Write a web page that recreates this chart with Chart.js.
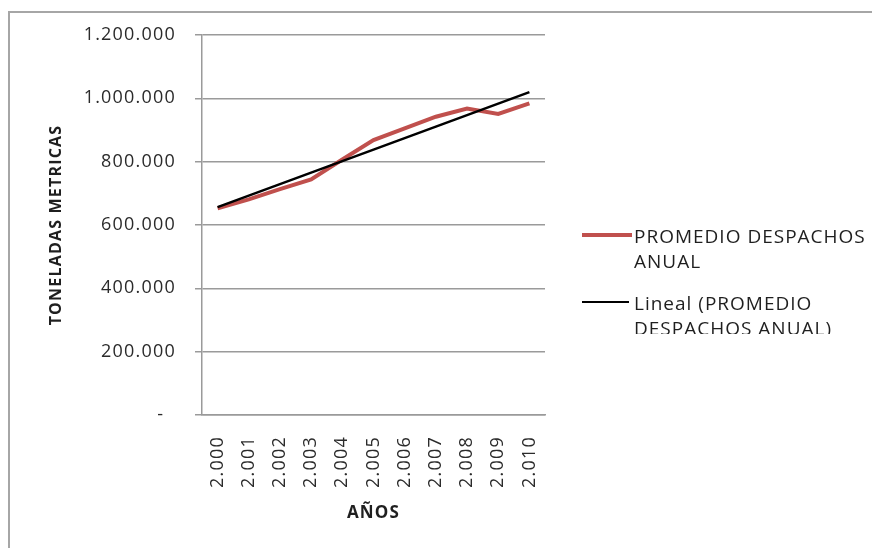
<!DOCTYPE html>
<html>
<head>
<meta charset="utf-8">
<script src="https://cdn.jsdelivr.net/npm/chart.js@4"></script>
<style>
    body { margin: 0; background: #fff; font-family: 'Open Sans', sans-serif; }
    #wrap { position: relative; width: 872px; height: 548px; overflow: hidden; }
    #frame { position: absolute; left: 8px; top: 11px; width: 900px; height: 600px;
             border: 2px solid #a6a6a6; box-sizing: border-box; }
    #chart { position: absolute; left: 0; top: 0; }
    #legend { position: absolute; left: 578px; top: 224px; width: 294px; height: 110px;
              overflow: hidden; color: #1f1f1f; font-size: 19px; line-height: 25px;
              letter-spacing: 1px; }
    .item { position: relative; margin-bottom: 17px; }
    .swatch { position: absolute; left: 4px; }
    .txt { margin-left: 56px; width: 238px; }
</style>
</head>
<body>
<div id="wrap">
    <div id="frame"></div>
    <canvas id="chart" width="872" height="548"></canvas>
    <div id="legend"></div>
</div>
<script>
(function () {

    // ─────────────────────────────────────────────
    // DATA
    // ─────────────────────────────────────────────
    const years = [2000, 2001, 2002, 2003, 2004, 2005, 2006, 2007, 2008, 2009, 2010];
    const despachos = [653000, 681000, 713000, 744000, 807000, 868000, 905000, 942000, 968000, 951000, 984000];
    const yTicks = [0, 200000, 400000, 600000, 800000, 1000000, 1200000];

    const seriesName = 'PROMEDIO DESPACHOS ANUAL';
    const trendName = 'Lineal (PROMEDIO DESPACHOS ANUAL)';

    function dotted(v) {
        return String(v).replace(/\B(?=(\d{3})+(?!\d))/g, '.');
    }

    // least squares trend line (what Excel's "Lineal" trendline is)
    function linearTrend(ys) {
        const n = ys.length;
        const xs = ys.map((_, i) => i);
        const mx = xs.reduce((a, b) => a + b, 0) / n;
        const my = ys.reduce((a, b) => a + b, 0) / n;
        let num = 0, den = 0;
        xs.forEach((x, i) => { num += (x - mx) * (ys[i] - my); den += (x - mx) * (x - mx); });
        const slope = num / den;
        return xs.map(x => my + slope * (x - mx));
    }

    const gray = '#9a9a9a';
    const textColor = '#2b2b2b';

    Chart.defaults.font.family = "'Open Sans', sans-serif";
    Chart.defaults.color = textColor;

    // canvas letter spacing, the source picture has wide text
    const spacing = {
        id: 'spacing',
        beforeDraw(chart) { chart.ctx.letterSpacing = '1.2px'; }
    };

    // ─────────────────────────────────────────────
    // CHART
    // ─────────────────────────────────────────────
    const chart = new Chart(document.getElementById('chart').getContext('2d'), {
        type: 'line',
        data: {
            labels: years.map(dotted),
            datasets: [{
                label: seriesName,
                data: despachos,
                borderColor: '#c0504d',
                borderWidth: 4,
                pointRadius: 0,
                tension: 0,
                order: 2
            }, {
                label: trendName,
                data: linearTrend(despachos),
                borderColor: '#000000',
                borderWidth: 2.5,
                pointRadius: 0,
                tension: 0,
                order: 1
            }]
        },
        options: {
            responsive: false,
            animation: false,
            devicePixelRatio: 1,
            layout: { padding: { left: 0, top: 35, right: 327, bottom: 0 } },
            plugins: { legend: { display: false }, tooltip: { enabled: false } },
            scales: {
                x: {
                    offset: true,
                    grid: { display: false, drawTicks: false },
                    border: { display: true, color: gray, width: 1.5 },
                    ticks: { minRotation: 90, maxRotation: 90, padding: 21, font: { size: 18 } },
                    title: {
                        display: true, text: 'AÑOS', color: '#1f1f1f',
                        font: { size: 17, weight: 'bold' }, padding: { top: 0, bottom: 25 }
                    },
                    afterFit(scale) { scale.height = 133; }
                },
                y: {
                    min: 0,
                    max: 1200000,
                    afterBuildTicks(scale) { scale.ticks = yTicks.map(v => ({ value: v })); },
                    grid: { color: gray, lineWidth: 1.5, tickLength: 7, tickColor: gray },
                    border: { display: true, color: gray, width: 1.5 },
                    ticks: {
                        padding: 19,
                        font: { size: 18 },
                        callback: v => v === 0 ? '-  ' : dotted(v)
                    },
                    title: {
                        display: true, text: 'TONELADAS METRICAS', color: '#1f1f1f',
                        font: { size: 16, weight: 'bold' }, padding: { top: 47, bottom: 0 }
                    },
                    afterFit(scale) { scale.width = 202; }
                }
            }
        },
        plugins: [spacing]
    });

    // ─────────────────────────────────────────────
    // LEGEND (html, clipped like the original box)
    // ─────────────────────────────────────────────
    const legend = document.getElementById('legend');
    chart.data.datasets.forEach(ds => {
        const item = document.createElement('div');
        item.className = 'item';
        const sw = document.createElement('div');
        sw.className = 'swatch';
        const h = ds.borderWidth;
        sw.style.cssText = 'top:' + (11 - h / 2) + 'px;width:' + (ds.borderWidth > 3 ? 50 : 47) +
            'px;height:' + h + 'px;background:' + ds.borderColor;
        const txt = document.createElement('div');
        txt.className = 'txt';
        txt.textContent = ds.label;
        item.appendChild(sw);
        item.appendChild(txt);
        legend.appendChild(item);
    });

})();
</script>
</body>
</html>
